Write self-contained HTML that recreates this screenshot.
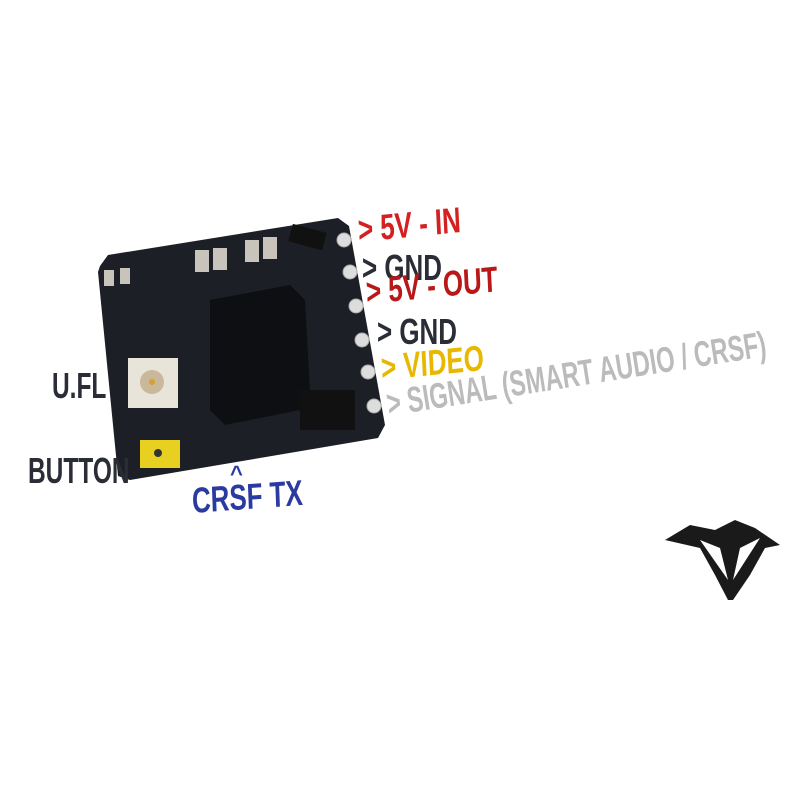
<!DOCTYPE html>
<html><head><style>
body{margin:0;width:800px;height:800px;background:#fff;overflow:hidden;position:relative;font-family:"Liberation Sans Narrow","Liberation Sans",sans-serif;font-weight:bold}
.t{position:absolute;white-space:nowrap;font-size:36px;line-height:36px;transform-origin:0 50%}
</style></head><body>
<svg width="800" height="800" style="position:absolute;left:0;top:0">
<polygon points="100,266 108,255 338,218 349,226 385,425 378,438 130,480 118,476 98,272" fill="#1c1f26"/>
<polygon points="210,300 290,285 305,300 310,390 300,410 225,425 210,410" fill="#0d0f12"/>
<rect x="128" y="358" width="50" height="50" fill="#e8e4da"/>
<circle cx="152" cy="382" r="12" fill="#c9b89a"/>
<circle cx="152" cy="382" r="3" fill="#d4a030"/>
<rect x="140" y="440" width="40" height="28" fill="#e7d020"/>
<circle cx="158" cy="453" r="4" fill="#333"/>
<rect x="300" y="390" width="55" height="40" fill="#111"/>
<rect x="290" y="228" width="35" height="18" fill="#111" transform="rotate(15 307 237)"/>
<g fill="#c8c4bc"><rect x="195" y="250" width="14" height="22"/><rect x="213" y="248" width="14" height="22"/><rect x="245" y="240" width="14" height="22"/><rect x="263" y="237" width="14" height="22"/><rect x="104" y="270" width="10" height="16"/><rect x="120" y="268" width="10" height="16"/></g>
<g fill="#ddd" stroke="#aaa"><circle cx="344" cy="240" r="7"/><circle cx="350" cy="272" r="7"/><circle cx="356" cy="306" r="7"/><circle cx="362" cy="340" r="7"/><circle cx="368" cy="372" r="7"/><circle cx="374" cy="406" r="7"/></g>
<path d="M665 540 L690 525 L715 530 L735 520 L755 528 L780 545 L765 548 L750 575 L733 600 L728 600 L715 575 L700 548 Z" fill="#1a1a1a"/>
<path d="M700 540 L720 548 L728 580 Z M760 538 L740 548 L733 580 Z" fill="#fff"/>
</svg>
<div class="t" style="left:358px;top:212px;color:#d42020;transform:scaleX(0.72) rotate(-4deg)">&gt; 5V - IN</div>
<div class="t" style="left:362px;top:250px;color:#2a2d36;transform:scaleX(0.72)">&gt; GND</div>
<div class="t" style="left:366px;top:274px;color:#b81818;transform:scaleX(0.72) rotate(-4deg)">&gt; 5V - OUT</div>
<div class="t" style="left:377px;top:314px;color:#2a2d36;transform:scaleX(0.72)">&gt; GND</div>
<div class="t" style="left:381px;top:350px;color:#e8b800;transform:scaleX(0.72) rotate(-4deg)">&gt; VIDEO</div>
<div class="t" style="left:387px;top:386px;color:#bbb;transform:rotate(-9deg) scaleX(0.66)">&gt; SIGNAL (SMART AUDIO / CRSF)</div>
<div class="t" style="left:52px;top:368px;color:#2a2d36;transform:scaleX(0.68)">U.FL</div>
<div class="t" style="left:28px;top:453px;color:#2a2d36;transform:scaleX(0.68)">BUTTON</div>
<div class="t" style="left:230px;top:456px;color:#2b3aa0;font-size:22px">^</div>
<div class="t" style="left:192px;top:483px;color:#2b3aa0;transform:scaleX(0.72) rotate(-3deg)">CRSF TX</div>
</body></html>
